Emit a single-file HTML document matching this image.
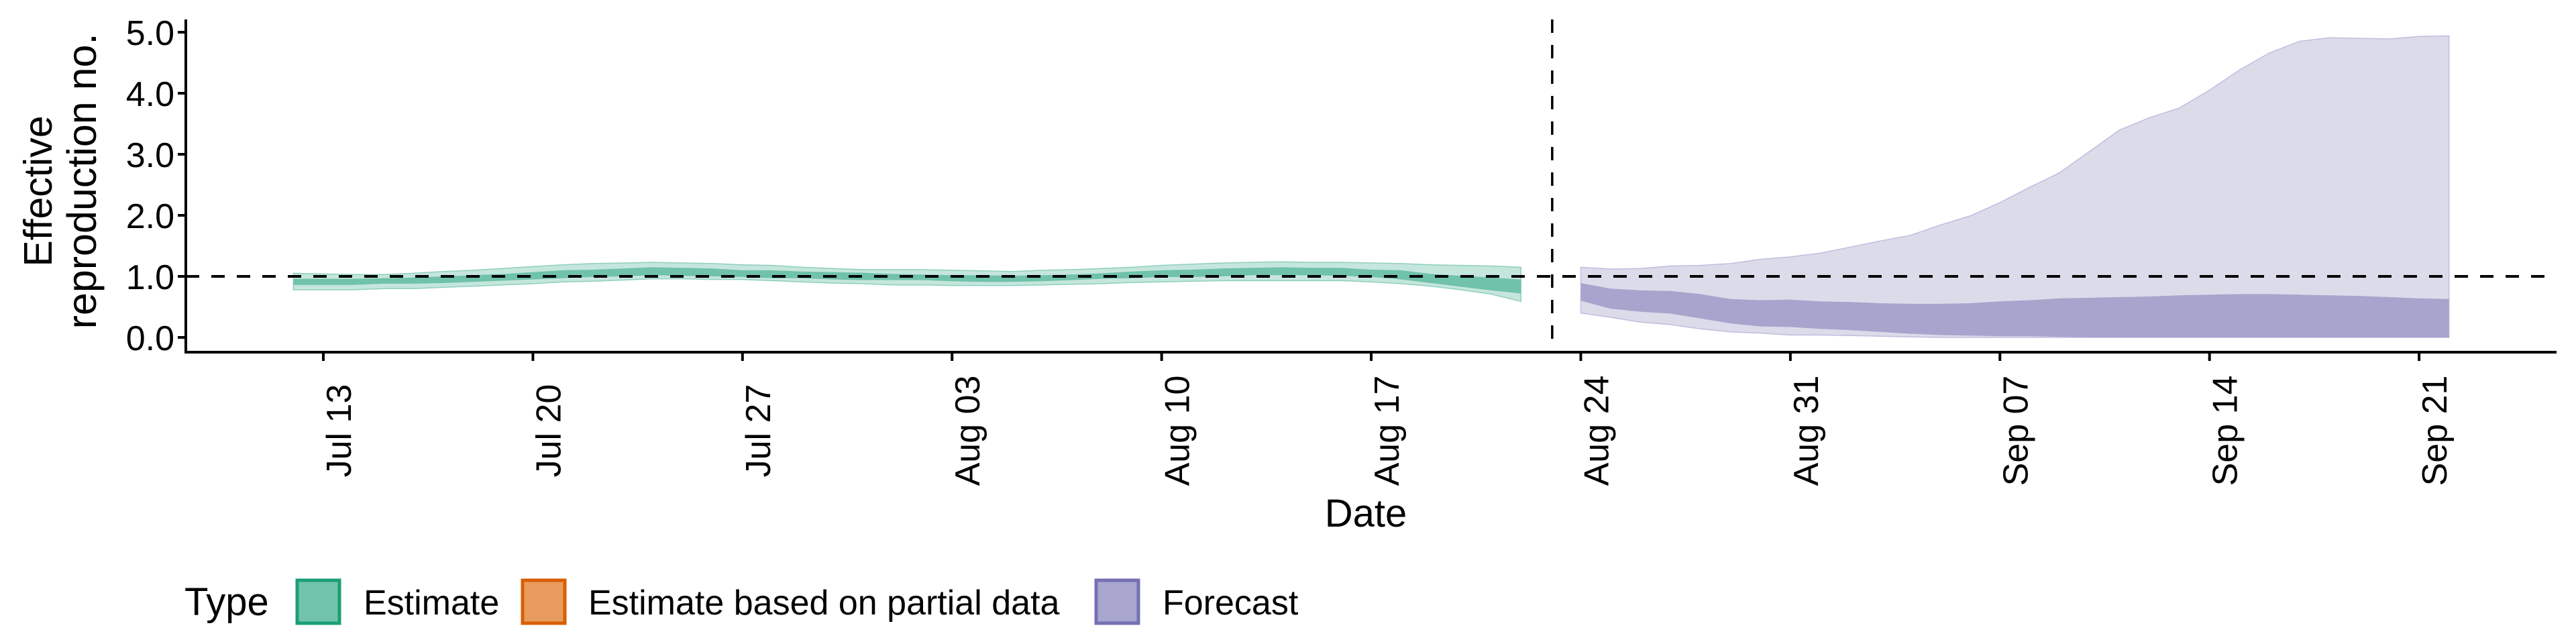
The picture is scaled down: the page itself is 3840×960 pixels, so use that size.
<!DOCTYPE html>
<html><head><meta charset="utf-8"><style>
html,body{margin:0;padding:0;background:#fff;}
svg{display:block;font-family:"Liberation Sans",sans-serif;}
</style></head><body>
<svg id="chart" width="3840" height="960" viewBox="0 0 3840 960" xmlns="http://www.w3.org/2000/svg">
<g id="bands"></g>
<g id="refs"></g>
<g id="axes"></g>
<text transform="translate(77,285) rotate(-90)" text-anchor="middle" font-size="59">Effective</text>
<text transform="translate(143,270) rotate(-90)" text-anchor="middle" font-size="61">reproduction no.</text>
<text x="2036" y="785" text-anchor="middle" font-size="58">Date</text>
<g>
<text x="275" y="917" font-size="58">Type</text>
<rect x="443" y="865" width="63" height="64" fill="#71c4aa" stroke="#1b9e77" stroke-width="5"/>
<text x="542" y="916" font-size="52">Estimate</text>
<rect x="779" y="865" width="63" height="64" fill="#e89b5e" stroke="#d95f02" stroke-width="5"/>
<text x="877" y="916" font-size="52">Estimate based on partial data</text>
<rect x="1634" y="865" width="63" height="64" fill="#a8a5cf" stroke="#7570b3" stroke-width="5"/>
<text x="1733" y="916" font-size="52">Forecast</text>
</g>
</svg>
<script>
// day index k: 0 = Jul 12
const estDays = [0,1,2,3,4,5,6,7,8,9,10,11,12,13,14,15,16,17,18,19,20,21,22,23,24,25,26,27,28,29,30,31,32,33,34,35,36,37,38,39,40,41];
const estOuterHi = [1.05,1.04,1.03,1.03,1.05,1.08,1.10,1.13,1.16,1.19,1.21,1.22,1.23,1.22,1.21,1.19,1.18,1.15,1.13,1.11,1.11,1.11,1.10,1.09,1.08,1.10,1.11,1.13,1.15,1.18,1.20,1.22,1.23,1.24,1.23,1.23,1.22,1.21,1.19,1.18,1.17,1.15];
const estInnerHi = [0.96,0.96,0.96,0.97,0.98,1.00,1.02,1.04,1.07,1.10,1.11,1.13,1.15,1.14,1.13,1.10,1.10,1.08,1.07,1.06,1.04,1.03,1.02,1.02,1.01,1.02,1.03,1.05,1.08,1.10,1.11,1.13,1.14,1.15,1.14,1.14,1.11,1.10,1.04,1.01,0.98,0.95];
const estInnerLo = [0.86,0.86,0.86,0.88,0.88,0.89,0.91,0.93,0.95,0.97,0.99,1.00,1.02,1.01,1.00,0.99,0.97,0.97,0.95,0.94,0.94,0.94,0.92,0.91,0.91,0.92,0.94,0.96,0.97,0.99,0.99,1.00,1.02,1.02,1.02,1.01,0.99,0.95,0.89,0.83,0.77,0.72];
const estOuterLo = [0.78,0.78,0.78,0.80,0.80,0.82,0.84,0.86,0.88,0.91,0.92,0.94,0.96,0.96,0.95,0.95,0.93,0.91,0.89,0.88,0.86,0.86,0.85,0.85,0.85,0.86,0.87,0.88,0.90,0.91,0.92,0.93,0.93,0.93,0.93,0.93,0.91,0.88,0.84,0.78,0.71,0.59];
const fcDays = [43,44,45,46,47,48,49,50,51,52,53,54,55,56,57,58,59,60,61,62,63,64,65,66,67,68,69,70,71,72];
const fcOuterHi = [1.15,1.12,1.13,1.17,1.18,1.21,1.28,1.32,1.38,1.48,1.58,1.67,1.84,1.99,2.21,2.46,2.70,3.05,3.40,3.60,3.76,4.05,4.38,4.66,4.85,4.91,4.90,4.89,4.93,4.94];
const fcInnerHi = [0.89,0.80,0.77,0.76,0.71,0.63,0.61,0.62,0.59,0.58,0.56,0.55,0.55,0.56,0.59,0.61,0.64,0.65,0.66,0.67,0.69,0.70,0.71,0.71,0.70,0.69,0.68,0.66,0.64,0.63];
const fcInnerLo = [0.60,0.47,0.42,0.39,0.31,0.23,0.18,0.17,0.14,0.12,0.09,0.06,0.04,0.03,0.02,0.02,0.01,0,0,0,0,0,0,0,0,0,0,0,0,0];
const fcOuterLo = [0.40,0.33,0.25,0.21,0.14,0.09,0.07,0.04,0.04,0.03,0.02,0.01,0,0,0,0,0,0,0,0,0,0,0,0,0,0,0,0,0,0];
const yTicks = [0,1,2,3,4,5];
const yTickLabels = ["0.0","1.0","2.0","3.0","4.0","5.0"];
const xTickDays = [1,8,15,22,29,36,43,50,57,64,71];
const xTickLabels = ["Jul 13","Jul 20","Jul 27","Aug 03","Aug 10","Aug 17","Aug 24","Aug 31","Sep 07","Sep 14","Sep 21"];
const forecastStartDay = 42;
const refValue = 1;

const NS = "http://www.w3.org/2000/svg";
const X0 = 277, X1 = 3811, YT = 29, YB = 525;
function xs(k){ return 482 + 44.63 * (k - 1); }
function ys(v){ return 503 - 91 * v; }
function mk(tag, attrs, parent){
  const e = document.createElementNS(NS, tag);
  for (const a in attrs) e.setAttribute(a, attrs[a]);
  parent.appendChild(e); return e;
}
function bandPath(days, lo, hi){
  let d = "";
  days.forEach((k,i)=>{ d += (i?"L":"M") + xs(k).toFixed(1) + "," + ys(hi[i]).toFixed(1); });
  for (let i = days.length-1; i >= 0; i--) d += "L" + xs(days[i]).toFixed(1) + "," + ys(lo[i]).toFixed(1);
  return d + "Z";
}
const bands = document.getElementById("bands");
let p;
p = mk("path", {d: bandPath(estDays, estOuterLo, estOuterHi), fill:"#c5e6dc", stroke:"#8fd0bb", "stroke-width":"1.5"}, bands);


p = mk("path", {d: bandPath(estDays, estInnerLo, estInnerHi), fill:"#70c2aa"}, bands);


p = mk("path", {d: bandPath(fcDays, fcOuterLo, fcOuterHi), fill:"#dcdbea", stroke:"#c0bde0", "stroke-width":"1.5"}, bands);


p = mk("path", {d: bandPath(fcDays, fcInnerLo, fcInnerHi), fill:"#a8a4cd"}, bands);



const refs = document.getElementById("refs");
p = mk("line", {x1:X0, x2:X1, y1:ys(refValue), y2:ys(refValue), stroke:"#000", "stroke-width":"4", "stroke-dasharray":"20 18"}, refs);


p = mk("line", {x1:xs(forecastStartDay)+2, x2:xs(forecastStartDay)+2, y1:YT, y2:YB, stroke:"#000", "stroke-width":"3.5", "stroke-dasharray":"20 18"}, refs);



const axes = document.getElementById("axes");
p = mk("line", {x1:X0, x2:X0, y1:YT, y2:YB+2, stroke:"#000", "stroke-width":"4"}, axes);


p = mk("line", {x1:X0-2, x2:X1, y1:YB, y2:YB, stroke:"#000", "stroke-width":"4"}, axes);


yTicks.forEach((v,i)=>{
  const t = mk("line", {x1:X0-12, x2:X0, y1:ys(v), y2:ys(v), stroke:"#000", "stroke-width":"4"}, axes);
  
  
  const l = mk("text", {x:X0-17, y:ys(v)+19, "text-anchor":"end", "font-size":"52"}, axes);
  l.textContent = yTickLabels[i];
  
  
});
xTickDays.forEach((k,i)=>{
  const x = xs(k);
  const t = mk("line", {x1:x, x2:x, y1:YB, y2:YB+13, stroke:"#000", "stroke-width":"4"}, axes);
  
  
  const l = mk("text", {transform:"translate("+(x+41)+",642) rotate(-90)", "text-anchor":"middle", "font-size":"52"}, axes);
  l.textContent = xTickLabels[i];
  
  
});
</script>
</body></html>
